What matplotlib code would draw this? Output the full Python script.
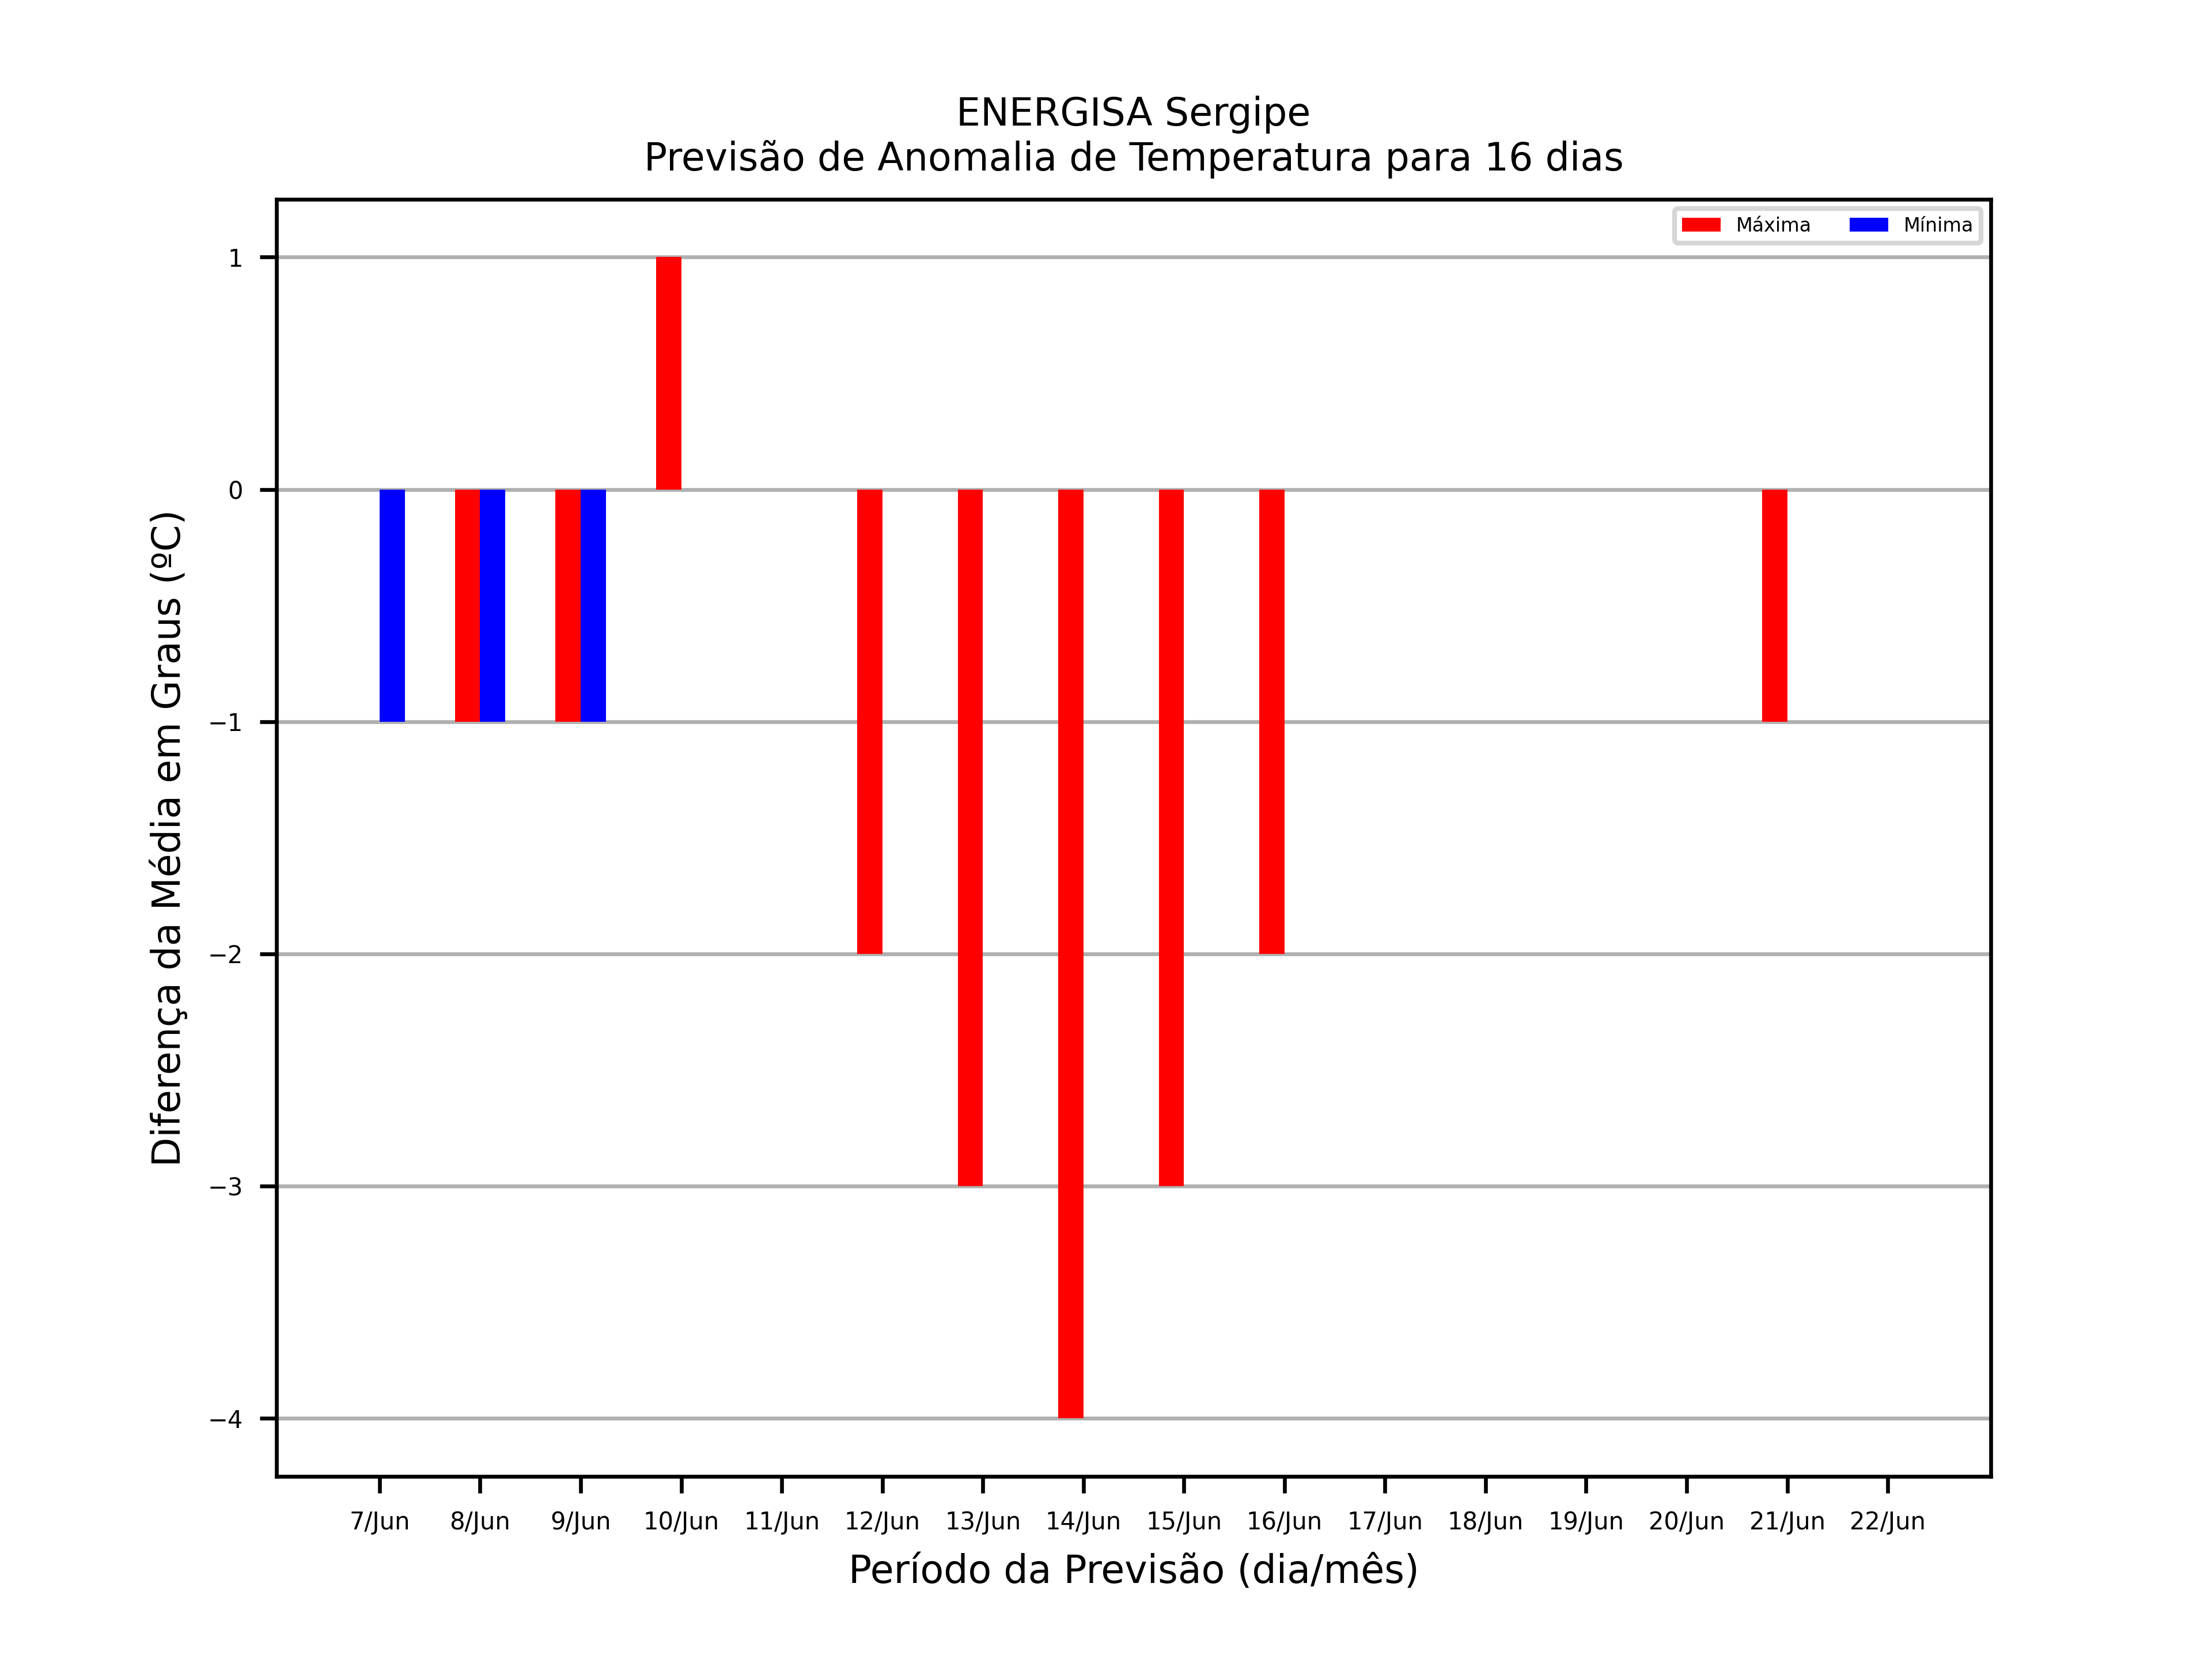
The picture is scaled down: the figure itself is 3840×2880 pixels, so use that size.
"""Anomalia de temperatura prevista para 16 dias - ENERGISA Sergipe."""

import numpy as np
import matplotlib
matplotlib.use("Agg")
import matplotlib.pyplot as plt

dias = ["7/Jun", "8/Jun", "9/Jun", "10/Jun", "11/Jun", "12/Jun", "13/Jun",
        "14/Jun", "15/Jun", "16/Jun", "17/Jun", "18/Jun", "19/Jun", "20/Jun",
        "21/Jun", "22/Jun"]
anom_max = [0, -1, -1, 1, 0, -2, -3, -4, -3, -2, 0, 0, 0, 0, -1, 0]
anom_min = [-1, -1, -1, 0, 0, 0, 0, 0, 0, 0, 0, 0, 0, 0, 0, 0]

x = np.arange(len(dias))
largura = 0.25

fig, ax = plt.subplots(figsize=(6.4, 4.8))
ax.bar(x - largura / 2, anom_max, largura, color="red", label="Máxima")
ax.bar(x + largura / 2, anom_min, largura, color="blue", label="Mínima")

ax.set_xticks(x)
ax.set_xticklabels(dias, fontsize=5)
ax.tick_params(axis="y", labelsize=5)

ax.set_axisbelow(True)
ax.grid(axis="y")

ax.set_title("ENERGISA Sergipe\nPrevisão de Anomalia de Temperatura para 16 dias",
             fontsize=8)
ax.set_xlabel("Período da Previsão (dia/mês)", fontsize=8)
ax.set_ylabel("Diferença da Média em Graus (ºC)", fontsize=8)
ax.legend(loc="upper right", ncol=2, fontsize=4)

plt.savefig("out.png", dpi=600)
plt.close()
